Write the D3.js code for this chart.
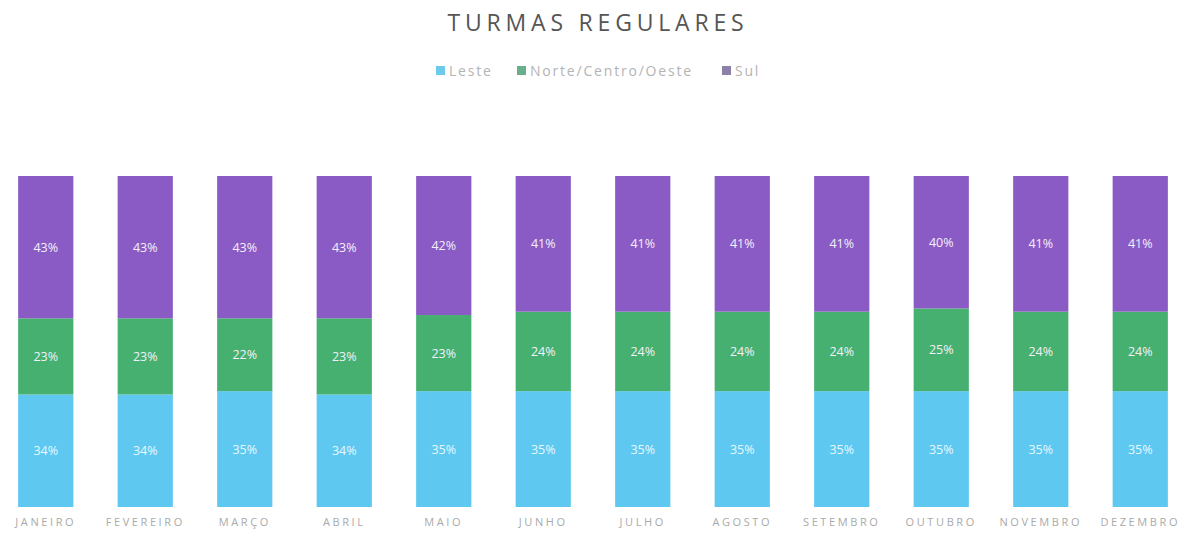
<!DOCTYPE html>
<html><head><meta charset="utf-8">
<script src="https://cdn.jsdelivr.net/npm/d3@7"></script>
<style>body{margin:0;background:#fff}svg{display:block}</style>
</head><body>
<svg id="c" width="1197" height="538"></svg>
<script>
const months = ["JANEIRO","FEVEREIRO","MARÇO","ABRIL","MAIO","JUNHO","JULHO","AGOSTO","SETEMBRO","OUTUBRO","NOVEMBRO","DEZEMBRO"];
const leste = [34,34,35,34,35,35,35,35,35,35,35,35];
const norteCentroOeste = [23,23,22,23,23,24,24,24,24,25,24,24];
const sul = [43,43,43,43,42,41,41,41,41,40,41,41];
const seriesNames = ["Leste","Norte/Centro/Oeste","Sul"];
const seriesColors = ["#5ec8f0","#46b070","#8a5bc4"];
const legendColors = ["#6ccbea","#6aae8c","#8c80a8"];

const svg = d3.select("#c");
const font = "'Open Sans', 'Liberation Sans', sans-serif";

const table = months.map((m,i)=>({month:m, "Leste":leste[i], "Norte/Centro/Oeste":norteCentroOeste[i], "Sul":sul[i]}));
const stack = d3.stack().keys(seriesNames).offset(d3.stackOffsetExpand)(table);

const x = d3.scaleBand().domain(months).range([-4,1190]).paddingInner(0.445).paddingOuter(0.2225);
const y = d3.scaleLinear().domain([0,1]).range([507,176]);

svg.append("text").attr("x",598).attr("y",31).attr("text-anchor","middle")
  .attr("font-family",font).attr("font-size",23).attr("letter-spacing",4.8)
  .attr("fill","#555").text("TURMAS REGULARES");

// legend
const legendX = [436,517,722];
seriesNames.forEach((n,i)=>{
  svg.append("rect").attr("x",legendX[i]).attr("y",66).attr("width",9).attr("height",9).attr("fill",legendColors[i]);
  svg.append("text").attr("x",legendX[i]+13).attr("y",76).attr("font-family",font).attr("font-size",14)
    .attr("letter-spacing",1.8).attr("fill","#b4b4b4").text(n);
});

const g = svg.append("g");
stack.forEach((s,si)=>{
  const layer = g.append("g");
  layer.selectAll("rect").data(s).enter().append("rect")
    .attr("x",d=>x(d.data.month)).attr("width",x.bandwidth())
    .attr("y",d=>y(d[1])).attr("height",d=>y(d[0])-y(d[1]))
    .attr("fill",seriesColors[si]);
  layer.selectAll("text").data(s).enter().append("text")
    .attr("x",d=>x(d.data.month)+x.bandwidth()/2)
    .attr("y",d=>(y(d[0])+y(d[1]))/2+4.5)
    .attr("text-anchor","middle").attr("font-family",font).attr("font-size",12.5)
    .attr("fill", si===0 ? "#e8f8ff" : "#f4f0fa")
    .text(d=>d.data[seriesNames[si]]+"%");
});

const xAxis = d3.axisBottom(x).tickSize(0).tickPadding(0);
const ax = svg.append("g").attr("transform","translate(0,516)").call(xAxis);
ax.select(".domain").remove();
ax.selectAll("text").attr("font-family",font).attr("font-size",11).attr("letter-spacing",2.6)
  .attr("fill","#aaa").attr("dy","0.9em");
</script>
</body></html>
